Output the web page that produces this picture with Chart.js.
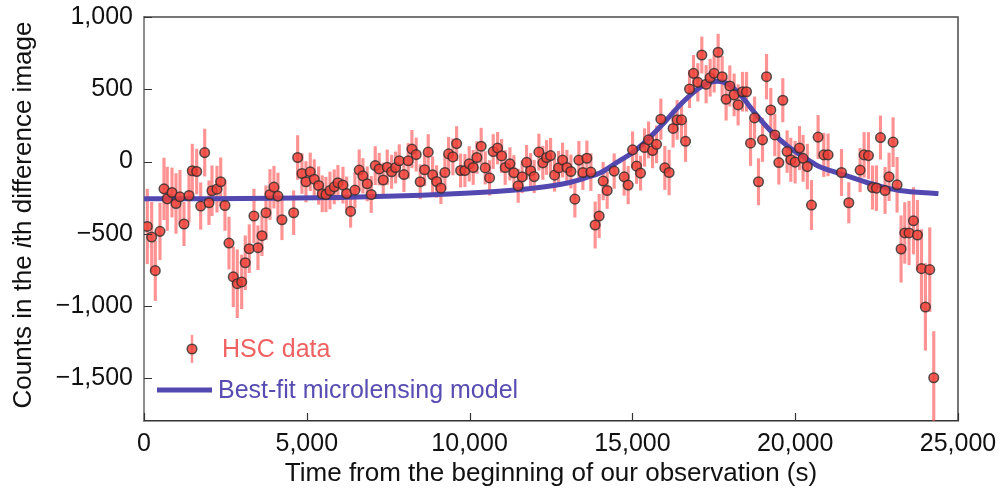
<!DOCTYPE html>
<html>
<head>
<meta charset="utf-8">
<script src="https://cdn.jsdelivr.net/npm/chart.js@4.4.1/dist/chart.umd.min.js"></script>
<style>
  html, body { margin: 0; padding: 0; background: #ffffff; }
  #wrap { width: 1002px; height: 499px; }
</style>
</head>
<body>
<div id="wrap"><canvas id="chart" width="1002" height="499"></canvas></div>
<script>
// HSC difference-image photometry: time (s), counts, 1-sigma error
const timeSec = [
  101, 236, 347, 491, 614, 715, 860, 983, 1105, 1228,
  1382, 1483, 1618, 1741, 1864, 1996, 2088, 2241, 2355, 2487,
  2610, 2742, 2865, 3000, 3110, 3233, 3377, 3500, 3623, 3746,
  3869, 3991, 4114, 4237, 4596, 4719, 4851, 4974, 5106, 5229,
  5364, 5474, 5588, 5711, 5843, 5956, 6110, 6224, 6346, 6478,
  6610, 6724, 6856, 6979, 7102, 7224, 7347, 7470, 7605, 7728,
  7839, 7983, 8115, 8228, 8360, 8483, 8618, 8729, 8864, 8987,
  9119, 9242, 9355, 9487, 9601, 9724, 9856, 9988, 10111, 10224,
  10356, 10479, 10614, 10725, 10860, 10983, 11093, 11238, 11360, 11492,
  11615, 11750, 11873, 11983, 12128, 12250, 12364, 12487, 12610, 12733,
  12856, 12988, 13111, 13233, 13356, 13479, 13602, 13724, 13856, 13979,
  14102, 14225, 14440, 14747, 14870, 15005, 15127, 15250, 15373, 15496,
  15619, 15742, 15874, 15996, 16128, 16251, 16374, 16509, 16632, 16755,
  16877, 17010, 17132, 17264, 17387, 17510, 17633, 17756, 17878, 17992,
  18124, 18247, 18382, 18505, 18628, 18751, 18873, 18996, 19119, 19251,
  19374, 19497, 19619, 19751, 19865, 19997, 20132, 20242, 20372, 20500,
  20703, 20878, 21010, 21422, 21646, 21993, 22116, 22251, 22374, 22496,
  22619, 22760, 22883, 23006, 23129, 23252, 23365, 23497, 23632, 23755,
  23878, 24000, 24132, 24255
];
const counts = [
  -449, -522, -755, -483, -189, -258, -214, -290, -244, -432,
  -235, -64, -69, -308, 62, -285, -202, -191, -140, -304,
  -564, -798, -845, -833, -700, -603, -377, -596, -513, -354,
  -228, -177, -239, -403, -354, 28, -83, -140, -71, -122,
  -166, -223, -228, -200, -175, -147, -163, -221, -345, -198,
  -59, -99, -154, -228, -28, -52, -128, -39, -71, -41,
  5, -90, 5, 86, 48, -140, -57, 65, -92, -138,
  -184, -76, 53, 32, 124, -62, -62, -16, -41, 28,
  106, -44, -113, 69, 93, 39, -41, -16, -78, -168,
  -106, -6, -64, -104, 65, -9, 28, 41, -94, -44,
  10, -41, -69, -260, 10, -76, 23, -73, -439, -377,
  -135, -200, -66, -106, -163, 81, -32, -80, 97, 150,
  76, 119, 293, -44, -76, 229, 288, 288, 140, 502,
  610, 548, 737, 535, 580, 610, 756, 587, 431, 523,
  461, 392, 483, 483, 127, 302, -140, 150, 587, 357,
  184, -7, 424, 69, 12, -4, 93, 22, -35, -301,
  169, 46, 46, -76, -285, -59, 46, 41, -180, -184,
  166, -200, -106, 134, -161, -605, -494, -494, -410, -508,
  -741, -1006, -748, -1496
];
const countErr = [
  258, 240, 207, 196, 213, 219, 170, 207, 184, 150,
  184, 184, 155, 161, 163, 152, 173, 159, 166, 173,
  180, 207, 235, 186, 186, 166, 186, 152, 138, 186,
  173, 145, 159, 138, 152, 152, 138, 140, 130, 135,
  130, 125, 120, 128, 118, 120, 125, 115, 110, 122,
  140, 120, 118, 125, 132, 110, 118, 120, 115, 108,
  112, 118, 120, 130, 115, 118, 110, 122, 125, 110,
  108, 120, 115, 125, 118, 115, 112, 120, 118, 110,
  125, 112, 120, 118, 110, 115, 118, 112, 120, 115,
  110, 118, 120, 112, 125, 115, 118, 120, 112, 116,
  118, 120, 115, 125, 130, 118, 120, 128, 160, 150,
  130, 125, 120, 128, 130, 125, 120, 118, 130, 125,
  120, 128, 140, 150, 155, 130, 135, 130, 140, 130,
  125, 130, 125, 130, 128, 130, 125, 140, 145, 140,
  145, 140, 135, 135, 155, 145, 160, 150, 155, 150,
  145, 150, 150, 145, 150, 145, 150, 160, 155, 170,
  150, 150, 145, 160, 140, 150, 155, 160, 150, 155,
  150, 160, 165, 170, 190, 230, 210, 220, 230, 240,
  270, 300, 290, 320
];

// Best-fit microlensing light curve, sampled along the time axis
const modelTime = [
  0, 2000, 4000, 6000, 8000, 10000, 11000, 12000, 13000, 13600,
  14000, 14600, 15000, 15500, 16000, 16500, 17000, 17300, 17600, 17900,
  18300, 18800, 19300, 19800, 20200, 20700, 21400, 22200, 22800, 23200,
  24400
];
const modelCounts = [
  -258, -257, -254, -248, -237, -218, -204, -183, -148, -110,
  -80, 5, 60, 160, 275, 400, 500, 540, 555, 540,
  465, 325, 200, 100, 40, -30, -85, -145, -182, -200,
  -222
];

const xTicks = [0, 5000, 10000, 15000, 20000, 25000];
const yTicks = [-1500, -1000, -500, 0, 500, 1000];

const FONT = '"Liberation Sans", Arial, Helvetica, sans-serif';
const RED_FILL = 'rgba(238, 62, 52, 0.82)';
const RED_BAR = 'rgba(255, 80, 80, 0.62)';
const BLUE = 'rgb(82, 72, 176)';

function fmt(v) {
  const s = String(Math.abs(v)).replace(/\B(?=(\d{3})+(?!\d))/g, ',');
  return (v < 0 ? '\u2212' : '') + s;
}

const points = timeSec.map((t, i) => ({ x: t, y: counts[i] }));
const errBars = timeSec.map((t, i) => ({ x: t, y: [counts[i] - countErr[i], counts[i] + countErr[i]] }));
const modelPts = modelTime.map((t, i) => ({ x: t, y: modelCounts[i] }));

// Inward tick marks, frame, axis titles and the in-plot legend
const decorations = {
  id: 'decorations',
  afterDraw(chart) {
    const { ctx, chartArea: a, scales: { x, y } } = chart;
    ctx.save();
    // top and right frame
    ctx.strokeStyle = '#4a4a4a';
    ctx.lineWidth = 1.5;
    ctx.beginPath();
    ctx.moveTo(a.left, a.top);
    ctx.lineTo(a.right, a.top);
    ctx.lineTo(a.right, a.bottom);
    ctx.stroke();
    // tick marks pointing into the plot
    ctx.strokeStyle = '#333';
    ctx.lineWidth = 1.2;
    ctx.beginPath();
    yTicks.forEach(v => {
      const py = Math.round(y.getPixelForValue(v)) + 0.5;
      ctx.moveTo(a.left, py);
      ctx.lineTo(a.left + 8, py);
    });
    xTicks.forEach(v => {
      const px = Math.round(x.getPixelForValue(v)) + 0.5;
      ctx.moveTo(px, a.bottom);
      ctx.lineTo(px, a.bottom - 8);
    });
    ctx.stroke();

    // axis titles
    ctx.fillStyle = '#111';
    ctx.font = '26px ' + FONT;
    ctx.textAlign = 'center';
    ctx.textBaseline = 'alphabetic';
    ctx.fillText('Time from the beginning of our observation (s)', (a.left + a.right) / 2, 481);

    const parts = [
      { t: 'Counts in the ', f: '26px ' + FONT },
      { t: 'i', f: 'italic 26px ' + FONT },
      { t: 'th difference image', f: '26px ' + FONT }
    ];
    let total = 0;
    parts.forEach(p => { ctx.font = p.f; p.w = ctx.measureText(p.t).width; total += p.w; });
    ctx.save();
    ctx.translate(31, (a.top + a.bottom) / 2 - 4);
    ctx.rotate(-Math.PI / 2);
    ctx.textAlign = 'left';
    let cx = -total / 2;
    parts.forEach(p => { ctx.font = p.f; ctx.fillText(p.t, cx, 0); cx += p.w; });
    ctx.restore();

    // legend
    const mx = 192, my = 349;
    ctx.strokeStyle = RED_BAR;
    ctx.lineWidth = 2.5;
    ctx.beginPath();
    ctx.moveTo(mx, my - 14);
    ctx.lineTo(mx, my + 14);
    ctx.stroke();
    ctx.beginPath();
    ctx.arc(mx, my, 4.8, 0, Math.PI * 2);
    ctx.fillStyle = RED_FILL;
    ctx.fill();
    ctx.strokeStyle = 'rgba(45, 45, 45, 0.8)';
    ctx.lineWidth = 1.5;
    ctx.stroke();
    ctx.font = '25px ' + FONT;
    ctx.textAlign = 'left';
    ctx.fillStyle = 'rgb(240, 98, 98)';
    ctx.fillText('HSC data', 222, 357);

    ctx.strokeStyle = BLUE;
    ctx.lineWidth = 5;
    ctx.beginPath();
    ctx.moveTo(157, 390);
    ctx.lineTo(212, 390);
    ctx.stroke();
    ctx.fillStyle = 'rgb(86, 76, 178)';
    ctx.fillText('Best-fit microlensing model', 218, 398);
    ctx.restore();
  }
};

new Chart(document.getElementById('chart'), {
  type: 'scatter',
  data: {
    datasets: [
      {
        type: 'bar',
        label: 'HSC data error',
        data: errBars,
        backgroundColor: RED_BAR,
        borderWidth: 0,
        barThickness: 2.5,
        order: 3
      },
      {
        type: 'line',
        label: 'Best-fit microlensing model',
        data: modelPts,
        borderColor: BLUE,
        borderWidth: 5,
        pointRadius: 0,
        fill: false,
        cubicInterpolationMode: 'monotone',
        order: 2
      },
      {
        type: 'scatter',
        label: 'HSC data',
        data: points,
        pointRadius: 4.8,
        pointBackgroundColor: RED_FILL,
        pointBorderColor: 'rgba(45, 45, 45, 0.8)',
        pointBorderWidth: 1.5,
        order: 1
      }
    ]
  },
  options: {
    responsive: false,
    animation: false,
    devicePixelRatio: 1,
    layout: { padding: { left: 0, right: 44, top: 17, bottom: 0 } },
    plugins: {
      legend: { display: false },
      tooltip: { enabled: false },
      title: { display: false }
    },
    scales: {
      x: {
        type: 'linear',
        min: 0,
        max: 25000,
        offset: false,
        grid: { display: false, drawTicks: false },
        border: { display: true, color: '#333', width: 1.5 },
        afterBuildTicks: s => { s.ticks = xTicks.map(v => ({ value: v })); },
        afterFit: s => { s.height = 78; s.paddingLeft = 0; s.paddingRight = 0; },
        ticks: {
          color: '#111',
          font: { family: FONT, size: 25 },
          padding: 8,
          maxRotation: 0,
          callback: v => fmt(v)
        }
      },
      y: {
        type: 'linear',
        min: -1795,
        max: 1000,
        grid: { display: false, drawTicks: false },
        border: { display: true, color: '#8c8c8c', width: 2 },
        afterBuildTicks: s => { s.ticks = yTicks.map(v => ({ value: v })); },
        afterFit: s => { s.width = 144; s.paddingTop = 0; s.paddingBottom = 0; },
        ticks: {
          color: '#111',
          font: { family: FONT, size: 25 },
          padding: 11,
          callback: v => fmt(v)
        }
      }
    }
  },
  plugins: [decorations]
});
</script>
</body>
</html>
